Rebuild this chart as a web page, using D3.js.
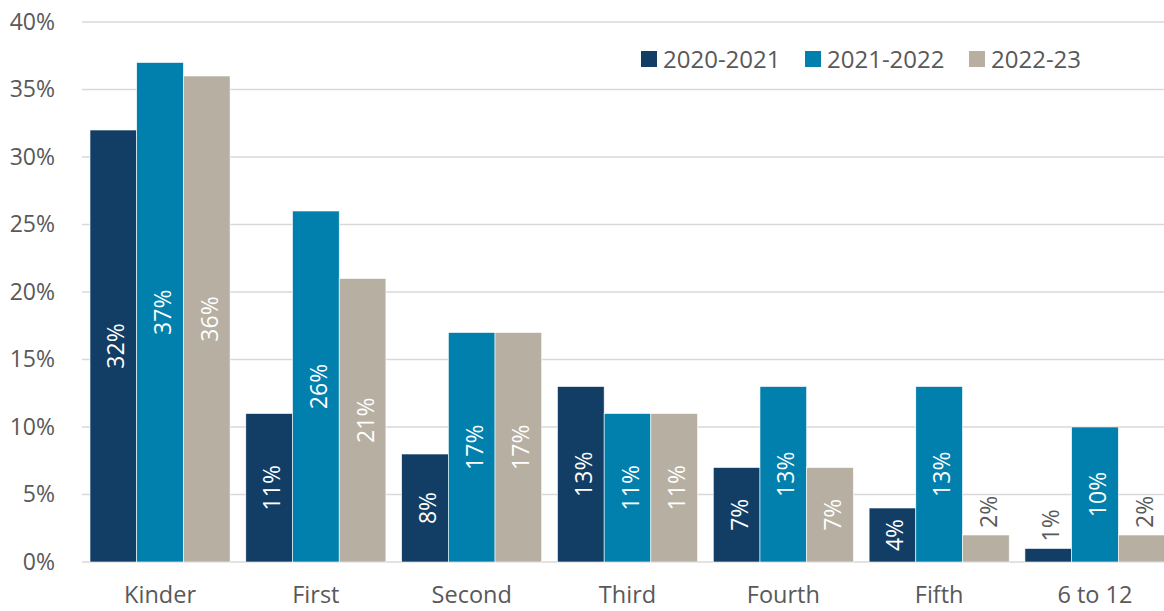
<!DOCTYPE html>
<html>
<head>
<meta charset="utf-8">
<script src="https://cdn.jsdelivr.net/npm/d3@7"></script>
<style>
  body { margin: 0; background: #fff; }
  text { font-family: "Open Sans", "Noto Sans", sans-serif; }
</style>
</head>
<body>
<div id="chart"></div>
<script>
const grades = ['Kinder', 'First', 'Second', 'Third', 'Fourth', 'Fifth', '6 to 12'];
const seriesNames = ['2020-2021', '2021-2022', '2022-23'];
const y2020 = [32, 11, 8, 13, 7, 4, 1];
const y2021 = [37, 26, 17, 11, 13, 13, 10];
const y2022 = [36, 21, 17, 11, 7, 2, 2];
const yTicks = [0, 5, 10, 15, 20, 25, 30, 35, 40];
const colors = ['#123e66', '#0180ae', '#b6afa2'];

const W = 1164, H = 611;
const margin = { top: 22, right: -9, bottom: 49, left: 82 };
const width = W - margin.left - margin.right;
const height = H - margin.top - margin.bottom;

const rows = grades.map((g, i) => ({
  grade: g,
  values: [y2020[i], y2021[i], y2022[i]].map((v, k) => ({ key: seriesNames[k], k: k, v: v }))
}));

const svg = d3.select('#chart').append('svg')
  .attr('width', W)
  .attr('height', H);

const chart = svg.append('g')
  .attr('transform', `translate(${margin.left}, ${margin.top})`);

const x0 = d3.scaleBand().domain(grades).range([0, width]).paddingInner(0.101).paddingOuter(0.0513);
const x1 = d3.scaleBand().domain(seriesNames).range([0, x0.bandwidth()]);
const y = d3.scaleLinear().domain([0, 40]).range([height, 0]);

// gridlines
chart.append('g')
  .selectAll('line')
  .data(yTicks)
  .enter().append('line')
  .attr('x1', 0).attr('x2', width)
  .attr('y1', d => y(d)).attr('y2', d => y(d))
  .attr('stroke', '#d9d9d9')
  .attr('stroke-width', 1.3);

// y axis labels
const yAxis = chart.append('g')
  .call(d3.axisLeft(y).tickValues(yTicks).tickFormat(d => d + '%').tickSize(0).tickPadding(27));
yAxis.select('.domain').remove();
yAxis.selectAll('text')
  .style('font-size', '23px')
  .attr('fill', '#595959')
  .attr('font-family', '"Open Sans", sans-serif');

// x axis labels
const xAxis = chart.append('g')
  .attr('transform', `translate(0, ${height})`)
  .call(d3.axisBottom(x0).tickSize(0).tickPadding(24));
xAxis.select('.domain').remove();
xAxis.selectAll('text')
  .style('font-size', '23.5px')
  .attr('fill', '#595959')
  .attr('font-family', '"Open Sans", sans-serif');

// bars
const groups = chart.selectAll('.grp')
  .data(rows)
  .enter().append('g')
  .attr('class', 'grp')
  .attr('transform', d => `translate(${x0(d.grade)}, 0)`);

groups.selectAll('rect')
  .data(d => d.values)
  .enter().append('rect')
  .attr('x', d => x1(d.key))
  .attr('y', d => y(d.v))
  .attr('width', x1.bandwidth())
  .attr('height', d => height - y(d.v))
  .attr('fill', d => colors[d.k])
  .attr('stroke', '#ffffff')
  .attr('stroke-width', 0.6);

// data labels, rotated
groups.selectAll('.lbl')
  .data(d => d.values)
  .enter().append('text')
  .attr('class', 'lbl')
  .attr('transform', d => {
    const cx = x1(d.key) + x1.bandwidth() / 2;
    if (d.v >= 3) {
      const cy = (y(d.v) + height) / 2;
      return `translate(${cx + 11}, ${cy}) rotate(-90)`;
    }
    return `translate(${cx + 11}, ${y(d.v) - 7}) rotate(-90)`;
  })
  .attr('text-anchor', d => d.v >= 3 ? 'middle' : 'start')
  .attr('fill', d => d.v >= 3 ? '#ffffff' : '#595959')
  .style('font-size', '23px')
  .text(d => d.v + '%');

// legend
const legendX = [641, 805, 969];
const legend = svg.append('g')
  .selectAll('g')
  .data(seriesNames)
  .enter().append('g')
  .attr('transform', (d, i) => `translate(${legendX[i]}, 51)`);
legend.append('rect')
  .attr('width', 16).attr('height', 16)
  .attr('fill', (d, i) => colors[i]);
legend.append('text')
  .attr('x', 22).attr('y', 8)
  .attr('dy', '0.36em')
  .style('font-size', '24px')
  .attr('fill', '#595959')
  .text(d => d);
</script>
</body>
</html>
